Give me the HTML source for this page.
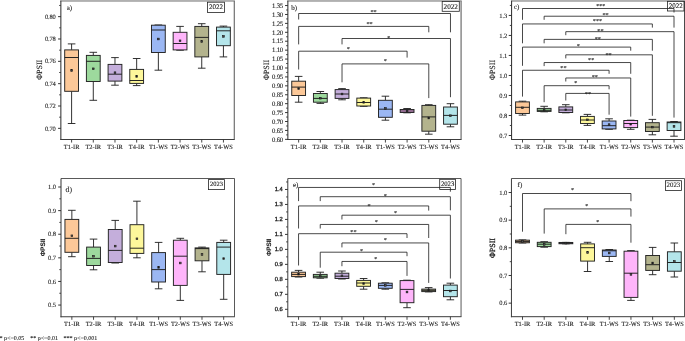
<!DOCTYPE html>
<html lang="en"><head><meta charset="utf-8"><title>Figure</title>
<style>html,body{margin:0;padding:0;background:#fff}body{width:685px;height:341px;overflow:hidden}svg text{white-space:pre;stroke:#222;stroke-width:0.1px;text-rendering:geometricPrecision}</style></head>
<body>
<svg width="685" height="341" viewBox="0 0 685 341" style="display:block">
<rect width="685" height="341" fill="#fff"/>
<g>
<rect x="60.25" y="0" width="174.65" height="1.9" fill="#b0b0b0"/>
<line x1="234.3" y1="1" x2="234.3" y2="139.45" stroke="#707070" stroke-width="1.2"/>
<path d="M71.6 43.9V49.9M71.6 91.3V123.5M67.8 43.9H75.4M67.8 123.5H75.4" fill="none" stroke="#1c1c1c" stroke-width="0.9"/>
<rect x="64.7" y="49.9" width="13.8" height="41.4" fill="#FCC898" stroke="#222" stroke-width="0.95"/>
<line x1="64.7" y1="57.5" x2="78.5" y2="57.5" stroke="#1c1c1c" stroke-width="0.95"/>
<rect x="70.75" y="69.65" width="1.7" height="1.7" fill="#444" stroke="#1a1a1a" stroke-width="0.6"/>
<path d="M93.29 52.3V55.4M93.29 81.5V100.3M89.49 52.3H97.09M89.49 100.3H97.09" fill="none" stroke="#1c1c1c" stroke-width="0.9"/>
<rect x="86.39" y="55.4" width="13.8" height="26.1" fill="#9DD99D" stroke="#222" stroke-width="0.95"/>
<line x1="86.39" y1="61.3" x2="100.19" y2="61.3" stroke="#1c1c1c" stroke-width="0.95"/>
<rect x="92.44" y="67.95" width="1.7" height="1.7" fill="#444" stroke="#1a1a1a" stroke-width="0.6"/>
<path d="M114.98 57.6V64.4M114.98 81.1V85.2M111.18 57.6H118.78M111.18 85.2H118.78" fill="none" stroke="#1c1c1c" stroke-width="0.9"/>
<rect x="108.08" y="64.4" width="13.8" height="16.7" fill="#C4AEDB" stroke="#222" stroke-width="0.95"/>
<line x1="108.08" y1="74.2" x2="121.88" y2="74.2" stroke="#1c1c1c" stroke-width="0.95"/>
<rect x="114.13" y="71.85" width="1.7" height="1.7" fill="#444" stroke="#1a1a1a" stroke-width="0.6"/>
<path d="M136.67 58.5V69.4M136.67 83.4V85.6M132.87 58.5H140.47M132.87 85.6H140.47" fill="none" stroke="#1c1c1c" stroke-width="0.9"/>
<rect x="129.77" y="69.4" width="13.8" height="14" fill="#FDF79B" stroke="#222" stroke-width="0.95"/>
<line x1="129.77" y1="80.5" x2="143.57" y2="80.5" stroke="#1c1c1c" stroke-width="0.95"/>
<rect x="135.82" y="75.55" width="1.7" height="1.7" fill="#444" stroke="#1a1a1a" stroke-width="0.6"/>
<path d="M158.36 25V25.2M158.36 52.5V70.2M154.56 25H162.16M154.56 70.2H162.16" fill="none" stroke="#1c1c1c" stroke-width="0.9"/>
<rect x="151.46" y="25.2" width="13.8" height="27.3" fill="#9BB7F3" stroke="#222" stroke-width="0.95"/>
<line x1="151.46" y1="30" x2="165.26" y2="30" stroke="#1c1c1c" stroke-width="0.95"/>
<rect x="157.51" y="38.15" width="1.7" height="1.7" fill="#444" stroke="#1a1a1a" stroke-width="0.6"/>
<path d="M180.05 26.4V32.3M180.05 49.9V50.2M176.25 26.4H183.85M176.25 50.2H183.85" fill="none" stroke="#1c1c1c" stroke-width="0.9"/>
<rect x="173.15" y="32.3" width="13.8" height="17.6" fill="#FEB5FA" stroke="#222" stroke-width="0.95"/>
<line x1="173.15" y1="43.5" x2="186.95" y2="43.5" stroke="#1c1c1c" stroke-width="0.95"/>
<rect x="179.2" y="39.95" width="1.7" height="1.7" fill="#444" stroke="#1a1a1a" stroke-width="0.6"/>
<path d="M201.74 23.7V26.4M201.74 56.9V68.2M197.94 23.7H205.54M197.94 68.2H205.54" fill="none" stroke="#1c1c1c" stroke-width="0.9"/>
<rect x="194.84" y="26.4" width="13.8" height="30.5" fill="#B3B38D" stroke="#222" stroke-width="0.95"/>
<line x1="194.84" y1="37.4" x2="208.64" y2="37.4" stroke="#1c1c1c" stroke-width="0.95"/>
<rect x="200.89" y="40.65" width="1.7" height="1.7" fill="#444" stroke="#1a1a1a" stroke-width="0.6"/>
<path d="M223.43 26.1V27.1M223.43 45.7V56.9M219.63 26.1H227.23M219.63 56.9H227.23" fill="none" stroke="#1c1c1c" stroke-width="0.9"/>
<rect x="216.53" y="27.1" width="13.8" height="18.6" fill="#B4E5EA" stroke="#222" stroke-width="0.95"/>
<line x1="216.53" y1="30.8" x2="230.33" y2="30.8" stroke="#1c1c1c" stroke-width="0.95"/>
<rect x="222.58" y="35.55" width="1.7" height="1.7" fill="#444" stroke="#1a1a1a" stroke-width="0.6"/>
<line x1="60.85" y1="0.8" x2="60.85" y2="139.95" stroke="#3c3c3c" stroke-width="1.1"/>
<line x1="60.35" y1="139.45" x2="234.7" y2="139.45" stroke="#3c3c3c" stroke-width="1.1"/>
<line x1="58.05" y1="128.35" x2="60.85" y2="128.35" stroke="#2a2a2a" stroke-width="0.95"/>
<text x="55.65" y="130.5" font-size="6.5" text-anchor="end" font-family='"Liberation Serif", "Times New Roman", serif' fill="#222" letter-spacing="-0.17">0.70</text>
<line x1="58.05" y1="106.01" x2="60.85" y2="106.01" stroke="#2a2a2a" stroke-width="0.95"/>
<text x="55.65" y="108.15" font-size="6.5" text-anchor="end" font-family='"Liberation Serif", "Times New Roman", serif' fill="#222" letter-spacing="-0.17">0.72</text>
<line x1="58.05" y1="83.67" x2="60.85" y2="83.67" stroke="#2a2a2a" stroke-width="0.95"/>
<text x="55.65" y="85.81" font-size="6.5" text-anchor="end" font-family='"Liberation Serif", "Times New Roman", serif' fill="#222" letter-spacing="-0.17">0.74</text>
<line x1="58.05" y1="61.33" x2="60.85" y2="61.33" stroke="#2a2a2a" stroke-width="0.95"/>
<text x="55.65" y="63.47" font-size="6.5" text-anchor="end" font-family='"Liberation Serif", "Times New Roman", serif' fill="#222" letter-spacing="-0.17">0.76</text>
<line x1="58.05" y1="38.99" x2="60.85" y2="38.99" stroke="#2a2a2a" stroke-width="0.95"/>
<text x="55.65" y="41.13" font-size="6.5" text-anchor="end" font-family='"Liberation Serif", "Times New Roman", serif' fill="#222" letter-spacing="-0.17">0.78</text>
<line x1="58.05" y1="16.65" x2="60.85" y2="16.65" stroke="#2a2a2a" stroke-width="0.95"/>
<text x="55.65" y="18.79" font-size="6.5" text-anchor="end" font-family='"Liberation Serif", "Times New Roman", serif' fill="#222" letter-spacing="-0.17">0.80</text>
<line x1="59.15" y1="117.18" x2="60.85" y2="117.18" stroke="#333" stroke-width="0.9"/>
<line x1="59.15" y1="94.84" x2="60.85" y2="94.84" stroke="#333" stroke-width="0.9"/>
<line x1="59.15" y1="72.5" x2="60.85" y2="72.5" stroke="#333" stroke-width="0.9"/>
<line x1="59.15" y1="50.16" x2="60.85" y2="50.16" stroke="#333" stroke-width="0.9"/>
<line x1="59.15" y1="27.82" x2="60.85" y2="27.82" stroke="#333" stroke-width="0.9"/>
<line x1="59.15" y1="5.48" x2="60.85" y2="5.48" stroke="#333" stroke-width="0.9"/>
<line x1="71.6" y1="139.45" x2="71.6" y2="142.55" stroke="#333" stroke-width="0.9"/>
<text x="71.6" y="149.3" font-size="6.4" text-anchor="middle" font-family='"Liberation Serif", "Times New Roman", serif' fill="#222">T1-IR</text>
<line x1="93.29" y1="139.45" x2="93.29" y2="142.55" stroke="#333" stroke-width="0.9"/>
<text x="93.29" y="149.3" font-size="6.4" text-anchor="middle" font-family='"Liberation Serif", "Times New Roman", serif' fill="#222">T2-IR</text>
<line x1="114.98" y1="139.45" x2="114.98" y2="142.55" stroke="#333" stroke-width="0.9"/>
<text x="114.98" y="149.3" font-size="6.4" text-anchor="middle" font-family='"Liberation Serif", "Times New Roman", serif' fill="#222">T3-IR</text>
<line x1="136.67" y1="139.45" x2="136.67" y2="142.55" stroke="#333" stroke-width="0.9"/>
<text x="136.67" y="149.3" font-size="6.4" text-anchor="middle" font-family='"Liberation Serif", "Times New Roman", serif' fill="#222">T4-IR</text>
<line x1="158.36" y1="139.45" x2="158.36" y2="142.55" stroke="#333" stroke-width="0.9"/>
<text x="158.36" y="149.3" font-size="6.4" text-anchor="middle" font-family='"Liberation Serif", "Times New Roman", serif' fill="#222">T1-WS</text>
<line x1="180.05" y1="139.45" x2="180.05" y2="142.55" stroke="#333" stroke-width="0.9"/>
<text x="180.05" y="149.3" font-size="6.4" text-anchor="middle" font-family='"Liberation Serif", "Times New Roman", serif' fill="#222">T2-WS</text>
<line x1="201.74" y1="139.45" x2="201.74" y2="142.55" stroke="#333" stroke-width="0.9"/>
<text x="201.74" y="149.3" font-size="6.4" text-anchor="middle" font-family='"Liberation Serif", "Times New Roman", serif' fill="#222">T3-WS</text>
<line x1="223.43" y1="139.45" x2="223.43" y2="142.55" stroke="#333" stroke-width="0.9"/>
<text x="223.43" y="149.3" font-size="6.4" text-anchor="middle" font-family='"Liberation Serif", "Times New Roman", serif' fill="#222">T4-WS</text>
<rect x="207.4" y="2.2" width="17.2" height="10.3" fill="#fff" stroke="#222" stroke-width="0.8"/>
<text x="216" y="9.43" font-size="7" text-anchor="middle" font-family='"Liberation Serif", "Times New Roman", serif' fill="#111">2022</text>
<text x="66.7" y="9.8" font-size="7" font-family='"Liberation Serif", "Times New Roman", serif' fill="#222">a)</text>
<text transform="translate(39 69.8) rotate(-90)" x="0" y="2.64" font-size="8.0" font-weight="normal" text-anchor="middle" font-family='"Liberation Serif", "Times New Roman", serif' fill="#222" style="stroke-width:0.13px">ΦPSII</text>
</g>
<g>
<rect x="287.25" y="0" width="174.45" height="1.9" fill="#b0b0b0"/>
<line x1="461.1" y1="1" x2="461.1" y2="139.45" stroke="#8a8a8a" stroke-width="1.5"/>
<path d="M298.65 19.5V13.5H450.48V32.3" fill="none" stroke="#1a1a1a" stroke-width="0.8"/>
<text x="373.6" y="13.6" font-size="6.2" text-anchor="middle" font-family='"Liberation Serif", "Times New Roman", serif' fill="#222">**</text>
<path d="M298.65 44.4V26.4H428.79V32.3" fill="none" stroke="#1a1a1a" stroke-width="0.8"/>
<text x="369.5" y="26.1" font-size="6.2" text-anchor="middle" font-family='"Liberation Serif", "Times New Roman", serif' fill="#222">**</text>
<path d="M342.03 44.4V38.5H450.48V97.2" fill="none" stroke="#1a1a1a" stroke-width="0.8"/>
<text x="388.9" y="40" font-size="6.2" text-anchor="middle" font-family='"Liberation Serif", "Times New Roman", serif' fill="#222">*</text>
<path d="M298.65 69.5V51.2H407.1V57.6" fill="none" stroke="#1a1a1a" stroke-width="0.8"/>
<text x="348.4" y="50.6" font-size="6.2" text-anchor="middle" font-family='"Liberation Serif", "Times New Roman", serif' fill="#222">*</text>
<path d="M342.03 82.3V63.9H428.79V98.1" fill="none" stroke="#1a1a1a" stroke-width="0.8"/>
<text x="385.2" y="62.7" font-size="6.2" text-anchor="middle" font-family='"Liberation Serif", "Times New Roman", serif' fill="#222">*</text>
<path d="M298.65 76.4V81.2M298.65 95.5V102.2M294.85 76.4H302.45M294.85 102.2H302.45" fill="none" stroke="#1c1c1c" stroke-width="0.9"/>
<rect x="291.75" y="81.2" width="13.8" height="14.3" fill="#FCC898" stroke="#222" stroke-width="0.95"/>
<line x1="291.75" y1="87.1" x2="305.55" y2="87.1" stroke="#1c1c1c" stroke-width="0.95"/>
<rect x="297.8" y="87.75" width="1.7" height="1.7" fill="#444" stroke="#1a1a1a" stroke-width="0.6"/>
<path d="M320.34 91.5V93.5M320.34 102.2V103.4M316.54 91.5H324.14M316.54 103.4H324.14" fill="none" stroke="#1c1c1c" stroke-width="0.9"/>
<rect x="313.44" y="93.5" width="13.8" height="8.7" fill="#9DD99D" stroke="#222" stroke-width="0.95"/>
<line x1="313.44" y1="98.4" x2="327.24" y2="98.4" stroke="#1c1c1c" stroke-width="0.95"/>
<rect x="319.49" y="97.35" width="1.7" height="1.7" fill="#444" stroke="#1a1a1a" stroke-width="0.6"/>
<path d="M342.03 88.6V89.6M342.03 98.4V99.8M338.23 88.6H345.83M338.23 99.8H345.83" fill="none" stroke="#1c1c1c" stroke-width="0.9"/>
<rect x="335.13" y="89.6" width="13.8" height="8.8" fill="#C4AEDB" stroke="#222" stroke-width="0.95"/>
<line x1="335.13" y1="94" x2="348.93" y2="94" stroke="#1c1c1c" stroke-width="0.95"/>
<rect x="341.18" y="93.15" width="1.7" height="1.7" fill="#444" stroke="#1a1a1a" stroke-width="0.6"/>
<path d="M363.72 97.8V98.1M363.72 106V106.3M359.92 97.8H367.52M359.92 106.3H367.52" fill="none" stroke="#1c1c1c" stroke-width="0.9"/>
<rect x="356.82" y="98.1" width="13.8" height="7.9" fill="#FDF79B" stroke="#222" stroke-width="0.95"/>
<line x1="356.82" y1="102.5" x2="370.62" y2="102.5" stroke="#1c1c1c" stroke-width="0.95"/>
<rect x="362.87" y="101.45" width="1.7" height="1.7" fill="#444" stroke="#1a1a1a" stroke-width="0.6"/>
<path d="M385.41 96.2V100.3M385.41 117.3V120.2M381.61 96.2H389.21M381.61 120.2H389.21" fill="none" stroke="#1c1c1c" stroke-width="0.9"/>
<rect x="378.51" y="100.3" width="13.8" height="17" fill="#9BB7F3" stroke="#222" stroke-width="0.95"/>
<line x1="378.51" y1="109.2" x2="392.31" y2="109.2" stroke="#1c1c1c" stroke-width="0.95"/>
<rect x="384.56" y="107.55" width="1.7" height="1.7" fill="#444" stroke="#1a1a1a" stroke-width="0.6"/>
<path d="M407.1 108.5V109.5M407.1 112.5V112.8M403.3 108.5H410.9M403.3 112.8H410.9" fill="none" stroke="#1c1c1c" stroke-width="0.9"/>
<rect x="400.2" y="109.5" width="13.8" height="3" fill="#FEB5FA" stroke="#222" stroke-width="0.95"/>
<line x1="400.2" y1="111" x2="414" y2="111" stroke="#1c1c1c" stroke-width="0.95"/>
<rect x="406.25" y="110.15" width="1.7" height="1.7" fill="#444" stroke="#1a1a1a" stroke-width="0.6"/>
<path d="M428.79 104.7V105.4M428.79 131.2V134.2M424.99 104.7H432.59M424.99 134.2H432.59" fill="none" stroke="#1c1c1c" stroke-width="0.9"/>
<rect x="421.89" y="105.4" width="13.8" height="25.8" fill="#B3B38D" stroke="#222" stroke-width="0.95"/>
<line x1="421.89" y1="116.9" x2="435.69" y2="116.9" stroke="#1c1c1c" stroke-width="0.95"/>
<rect x="427.94" y="117.15" width="1.7" height="1.7" fill="#444" stroke="#1a1a1a" stroke-width="0.6"/>
<path d="M450.48 103.7V107M450.48 124.2V126.8M446.68 103.7H454.28M446.68 126.8H454.28" fill="none" stroke="#1c1c1c" stroke-width="0.9"/>
<rect x="443.58" y="107" width="13.8" height="17.2" fill="#B4E5EA" stroke="#222" stroke-width="0.95"/>
<line x1="443.58" y1="115.4" x2="457.38" y2="115.4" stroke="#1c1c1c" stroke-width="0.95"/>
<rect x="449.63" y="114.85" width="1.7" height="1.7" fill="#444" stroke="#1a1a1a" stroke-width="0.6"/>
<line x1="287.85" y1="0.8" x2="287.85" y2="139.95" stroke="#3c3c3c" stroke-width="1.1"/>
<line x1="287.35" y1="139.45" x2="461.5" y2="139.45" stroke="#3c3c3c" stroke-width="1.1"/>
<line x1="285.05" y1="139.35" x2="287.85" y2="139.35" stroke="#2a2a2a" stroke-width="0.95"/>
<text x="282.95" y="141.56" font-size="6.7" text-anchor="end" font-family='"Liberation Serif", "Times New Roman", serif' fill="#222" letter-spacing="-0.2">0.60</text>
<line x1="285.05" y1="130.43" x2="287.85" y2="130.43" stroke="#2a2a2a" stroke-width="0.95"/>
<text x="282.95" y="132.64" font-size="6.7" text-anchor="end" font-family='"Liberation Serif", "Times New Roman", serif' fill="#222" letter-spacing="-0.2">0.65</text>
<line x1="285.05" y1="121.51" x2="287.85" y2="121.51" stroke="#2a2a2a" stroke-width="0.95"/>
<text x="282.95" y="123.72" font-size="6.7" text-anchor="end" font-family='"Liberation Serif", "Times New Roman", serif' fill="#222" letter-spacing="-0.2">0.70</text>
<line x1="285.05" y1="112.59" x2="287.85" y2="112.59" stroke="#2a2a2a" stroke-width="0.95"/>
<text x="282.95" y="114.8" font-size="6.7" text-anchor="end" font-family='"Liberation Serif", "Times New Roman", serif' fill="#222" letter-spacing="-0.2">0.75</text>
<line x1="285.05" y1="103.67" x2="287.85" y2="103.67" stroke="#2a2a2a" stroke-width="0.95"/>
<text x="282.95" y="105.88" font-size="6.7" text-anchor="end" font-family='"Liberation Serif", "Times New Roman", serif' fill="#222" letter-spacing="-0.2">0.80</text>
<line x1="285.05" y1="94.75" x2="287.85" y2="94.75" stroke="#2a2a2a" stroke-width="0.95"/>
<text x="282.95" y="96.96" font-size="6.7" text-anchor="end" font-family='"Liberation Serif", "Times New Roman", serif' fill="#222" letter-spacing="-0.2">0.85</text>
<line x1="285.05" y1="85.83" x2="287.85" y2="85.83" stroke="#2a2a2a" stroke-width="0.95"/>
<text x="282.95" y="88.04" font-size="6.7" text-anchor="end" font-family='"Liberation Serif", "Times New Roman", serif' fill="#222" letter-spacing="-0.2">0.90</text>
<line x1="285.05" y1="76.91" x2="287.85" y2="76.91" stroke="#2a2a2a" stroke-width="0.95"/>
<text x="282.95" y="79.12" font-size="6.7" text-anchor="end" font-family='"Liberation Serif", "Times New Roman", serif' fill="#222" letter-spacing="-0.2">0.95</text>
<line x1="285.05" y1="67.99" x2="287.85" y2="67.99" stroke="#2a2a2a" stroke-width="0.95"/>
<text x="282.95" y="70.2" font-size="6.7" text-anchor="end" font-family='"Liberation Serif", "Times New Roman", serif' fill="#222" letter-spacing="-0.2">1.00</text>
<line x1="285.05" y1="59.07" x2="287.85" y2="59.07" stroke="#2a2a2a" stroke-width="0.95"/>
<text x="282.95" y="61.28" font-size="6.7" text-anchor="end" font-family='"Liberation Serif", "Times New Roman", serif' fill="#222" letter-spacing="-0.2">1.05</text>
<line x1="285.05" y1="50.15" x2="287.85" y2="50.15" stroke="#2a2a2a" stroke-width="0.95"/>
<text x="282.95" y="52.36" font-size="6.7" text-anchor="end" font-family='"Liberation Serif", "Times New Roman", serif' fill="#222" letter-spacing="-0.2">1.10</text>
<line x1="285.05" y1="41.23" x2="287.85" y2="41.23" stroke="#2a2a2a" stroke-width="0.95"/>
<text x="282.95" y="43.44" font-size="6.7" text-anchor="end" font-family='"Liberation Serif", "Times New Roman", serif' fill="#222" letter-spacing="-0.2">1.15</text>
<line x1="285.05" y1="32.31" x2="287.85" y2="32.31" stroke="#2a2a2a" stroke-width="0.95"/>
<text x="282.95" y="34.52" font-size="6.7" text-anchor="end" font-family='"Liberation Serif", "Times New Roman", serif' fill="#222" letter-spacing="-0.2">1.20</text>
<line x1="285.05" y1="23.39" x2="287.85" y2="23.39" stroke="#2a2a2a" stroke-width="0.95"/>
<text x="282.95" y="25.6" font-size="6.7" text-anchor="end" font-family='"Liberation Serif", "Times New Roman", serif' fill="#222" letter-spacing="-0.2">1.25</text>
<line x1="285.05" y1="14.47" x2="287.85" y2="14.47" stroke="#2a2a2a" stroke-width="0.95"/>
<text x="282.95" y="16.68" font-size="6.7" text-anchor="end" font-family='"Liberation Serif", "Times New Roman", serif' fill="#222" letter-spacing="-0.2">1.30</text>
<line x1="285.05" y1="5.55" x2="287.85" y2="5.55" stroke="#2a2a2a" stroke-width="0.95"/>
<text x="282.95" y="7.76" font-size="6.7" text-anchor="end" font-family='"Liberation Serif", "Times New Roman", serif' fill="#222" letter-spacing="-0.2">1.35</text>
<line x1="286.15" y1="134.89" x2="287.85" y2="134.89" stroke="#333" stroke-width="0.9"/>
<line x1="286.15" y1="125.97" x2="287.85" y2="125.97" stroke="#333" stroke-width="0.9"/>
<line x1="286.15" y1="117.05" x2="287.85" y2="117.05" stroke="#333" stroke-width="0.9"/>
<line x1="286.15" y1="108.13" x2="287.85" y2="108.13" stroke="#333" stroke-width="0.9"/>
<line x1="286.15" y1="99.21" x2="287.85" y2="99.21" stroke="#333" stroke-width="0.9"/>
<line x1="286.15" y1="90.29" x2="287.85" y2="90.29" stroke="#333" stroke-width="0.9"/>
<line x1="286.15" y1="81.37" x2="287.85" y2="81.37" stroke="#333" stroke-width="0.9"/>
<line x1="286.15" y1="72.45" x2="287.85" y2="72.45" stroke="#333" stroke-width="0.9"/>
<line x1="286.15" y1="63.53" x2="287.85" y2="63.53" stroke="#333" stroke-width="0.9"/>
<line x1="286.15" y1="54.61" x2="287.85" y2="54.61" stroke="#333" stroke-width="0.9"/>
<line x1="286.15" y1="45.69" x2="287.85" y2="45.69" stroke="#333" stroke-width="0.9"/>
<line x1="286.15" y1="36.77" x2="287.85" y2="36.77" stroke="#333" stroke-width="0.9"/>
<line x1="286.15" y1="27.85" x2="287.85" y2="27.85" stroke="#333" stroke-width="0.9"/>
<line x1="286.15" y1="18.93" x2="287.85" y2="18.93" stroke="#333" stroke-width="0.9"/>
<line x1="286.15" y1="10.01" x2="287.85" y2="10.01" stroke="#333" stroke-width="0.9"/>
<line x1="298.65" y1="139.45" x2="298.65" y2="142.55" stroke="#333" stroke-width="0.9"/>
<text x="298.65" y="149.3" font-size="6.4" text-anchor="middle" font-family='"Liberation Serif", "Times New Roman", serif' fill="#222">T1-IR</text>
<line x1="320.34" y1="139.45" x2="320.34" y2="142.55" stroke="#333" stroke-width="0.9"/>
<text x="320.34" y="149.3" font-size="6.4" text-anchor="middle" font-family='"Liberation Serif", "Times New Roman", serif' fill="#222">T2-IR</text>
<line x1="342.03" y1="139.45" x2="342.03" y2="142.55" stroke="#333" stroke-width="0.9"/>
<text x="342.03" y="149.3" font-size="6.4" text-anchor="middle" font-family='"Liberation Serif", "Times New Roman", serif' fill="#222">T3-IR</text>
<line x1="363.72" y1="139.45" x2="363.72" y2="142.55" stroke="#333" stroke-width="0.9"/>
<text x="363.72" y="149.3" font-size="6.4" text-anchor="middle" font-family='"Liberation Serif", "Times New Roman", serif' fill="#222">T4-IR</text>
<line x1="385.41" y1="139.45" x2="385.41" y2="142.55" stroke="#333" stroke-width="0.9"/>
<text x="385.41" y="149.3" font-size="6.4" text-anchor="middle" font-family='"Liberation Serif", "Times New Roman", serif' fill="#222">T1-WS</text>
<line x1="407.1" y1="139.45" x2="407.1" y2="142.55" stroke="#333" stroke-width="0.9"/>
<text x="407.1" y="149.3" font-size="6.4" text-anchor="middle" font-family='"Liberation Serif", "Times New Roman", serif' fill="#222">T2-WS</text>
<line x1="428.79" y1="139.45" x2="428.79" y2="142.55" stroke="#333" stroke-width="0.9"/>
<text x="428.79" y="149.3" font-size="6.4" text-anchor="middle" font-family='"Liberation Serif", "Times New Roman", serif' fill="#222">T3-WS</text>
<line x1="450.48" y1="139.45" x2="450.48" y2="142.55" stroke="#333" stroke-width="0.9"/>
<text x="450.48" y="149.3" font-size="6.4" text-anchor="middle" font-family='"Liberation Serif", "Times New Roman", serif' fill="#222">T4-WS</text>
<rect x="442.2" y="1.4" width="17.1" height="9.9" fill="#fff" stroke="#222" stroke-width="0.8"/>
<text x="450.75" y="8.5" font-size="7.2" text-anchor="middle" font-family='"Liberation Serif", "Times New Roman", serif' fill="#111">2022</text>
<text x="291.2" y="9.7" font-size="7" font-family='"Liberation Serif", "Times New Roman", serif' fill="#222">b)</text>
<text transform="translate(265.9 70) rotate(-90)" x="0" y="2.64" font-size="8.0" font-weight="normal" text-anchor="middle" font-family='"Liberation Serif", "Times New Roman", serif' fill="#222" style="stroke-width:0.13px">ΦPSII</text>
</g>
<g>
<rect x="510.95" y="0" width="174.15" height="1.9" fill="#b0b0b0"/>
<line x1="684.5" y1="1" x2="684.5" y2="139.45" stroke="#4a4a4a" stroke-width="1.0"/>
<path d="M522.5 19.8V8.5H674.01V12.5" fill="none" stroke="#1a1a1a" stroke-width="0.8"/>
<text x="600.8" y="7.7" font-size="6.2" text-anchor="middle" font-family='"Liberation Serif", "Times New Roman", serif' fill="#222">***</text>
<path d="M544.14 19.8V16.22H674.01V27.6" fill="none" stroke="#1a1a1a" stroke-width="0.8"/>
<text x="605.5" y="16.8" font-size="6.2" text-anchor="middle" font-family='"Liberation Serif", "Times New Roman", serif' fill="#222">**</text>
<path d="M522.5 43.3V23.94H652.37V27.6" fill="none" stroke="#1a1a1a" stroke-width="0.8"/>
<text x="597.5" y="23.4" font-size="6.2" text-anchor="middle" font-family='"Liberation Serif", "Times New Roman", serif' fill="#222">***</text>
<path d="M565.79 35.2V31.66H674.01V117.6" fill="none" stroke="#1a1a1a" stroke-width="0.8"/>
<text x="600.4" y="33.2" font-size="6.2" text-anchor="middle" font-family='"Liberation Serif", "Times New Roman", serif' fill="#222">**</text>
<path d="M544.14 43.3V39.38H652.37V50.7" fill="none" stroke="#1a1a1a" stroke-width="0.8"/>
<text x="597.8" y="41.3" font-size="6.2" text-anchor="middle" font-family='"Liberation Serif", "Times New Roman", serif' fill="#222">**</text>
<path d="M522.5 65.8V47.1H630.73V50.7" fill="none" stroke="#1a1a1a" stroke-width="0.8"/>
<text x="578.4" y="48.1" font-size="6.2" text-anchor="middle" font-family='"Liberation Serif", "Times New Roman", serif' fill="#222">*</text>
<path d="M565.79 58.4V54.82H652.37V115.8" fill="none" stroke="#1a1a1a" stroke-width="0.8"/>
<text x="608.5" y="56.6" font-size="6.2" text-anchor="middle" font-family='"Liberation Serif", "Times New Roman", serif' fill="#222">**</text>
<path d="M544.14 66.1V62.54H630.73V73.8" fill="none" stroke="#1a1a1a" stroke-width="0.8"/>
<text x="591.2" y="61.7" font-size="6.2" text-anchor="middle" font-family='"Liberation Serif", "Times New Roman", serif' fill="#222">**</text>
<path d="M522.5 96.6V70.26H609.08V73.8" fill="none" stroke="#1a1a1a" stroke-width="0.8"/>
<text x="563.4" y="70.1" font-size="6.2" text-anchor="middle" font-family='"Liberation Serif", "Times New Roman", serif' fill="#222">**</text>
<path d="M565.79 81.5V77.98H630.73V116.6" fill="none" stroke="#1a1a1a" stroke-width="0.8"/>
<text x="594.8" y="79" font-size="6.2" text-anchor="middle" font-family='"Liberation Serif", "Times New Roman", serif' fill="#222">**</text>
<path d="M544.14 102.2V85.7H609.08V89.3" fill="none" stroke="#1a1a1a" stroke-width="0.8"/>
<text x="575.9" y="84.7" font-size="6.2" text-anchor="middle" font-family='"Liberation Serif", "Times New Roman", serif' fill="#222">*</text>
<path d="M565.79 100.5V93.42H609.08V114.7" fill="none" stroke="#1a1a1a" stroke-width="0.8"/>
<text x="587.9" y="95.7" font-size="6.2" text-anchor="middle" font-family='"Liberation Serif", "Times New Roman", serif' fill="#222">**</text>
<path d="M522.5 101.2V101.9M522.5 113.5V115.1M518.7 101.2H526.3M518.7 115.1H526.3" fill="none" stroke="#1c1c1c" stroke-width="0.9"/>
<rect x="515.6" y="101.9" width="13.8" height="11.6" fill="#FCC898" stroke="#222" stroke-width="0.95"/>
<line x1="515.6" y1="107.3" x2="529.4" y2="107.3" stroke="#1c1c1c" stroke-width="0.95"/>
<rect x="521.65" y="106.95" width="1.7" height="1.7" fill="#444" stroke="#1a1a1a" stroke-width="0.6"/>
<path d="M544.14 106.3V108.4M544.14 111.4V111.8M540.35 106.3H547.94M540.35 111.8H547.94" fill="none" stroke="#1c1c1c" stroke-width="0.9"/>
<rect x="537.25" y="108.4" width="13.8" height="3" fill="#9DD99D" stroke="#222" stroke-width="0.95"/>
<line x1="537.25" y1="110.3" x2="551.04" y2="110.3" stroke="#1c1c1c" stroke-width="0.95"/>
<rect x="543.29" y="109.15" width="1.7" height="1.7" fill="#444" stroke="#1a1a1a" stroke-width="0.6"/>
<path d="M565.79 104.7V106.9M565.79 112.5V112.8M561.99 104.7H569.59M561.99 112.8H569.59" fill="none" stroke="#1c1c1c" stroke-width="0.9"/>
<rect x="558.89" y="106.9" width="13.8" height="5.6" fill="#C4AEDB" stroke="#222" stroke-width="0.95"/>
<line x1="558.89" y1="110" x2="572.69" y2="110" stroke="#1c1c1c" stroke-width="0.95"/>
<rect x="564.94" y="108.95" width="1.7" height="1.7" fill="#444" stroke="#1a1a1a" stroke-width="0.6"/>
<path d="M587.43 114.4V116.4M587.43 123.5V125.4M583.63 114.4H591.23M583.63 125.4H591.23" fill="none" stroke="#1c1c1c" stroke-width="0.9"/>
<rect x="580.53" y="116.4" width="13.8" height="7.1" fill="#FDF79B" stroke="#222" stroke-width="0.95"/>
<line x1="580.53" y1="120" x2="594.33" y2="120" stroke="#1c1c1c" stroke-width="0.95"/>
<rect x="586.58" y="118.95" width="1.7" height="1.7" fill="#444" stroke="#1a1a1a" stroke-width="0.6"/>
<path d="M609.08 118.8V121M609.08 128.9V129.3M605.28 118.8H612.88M605.28 129.3H612.88" fill="none" stroke="#1c1c1c" stroke-width="0.9"/>
<rect x="602.18" y="121" width="13.8" height="7.9" fill="#9BB7F3" stroke="#222" stroke-width="0.95"/>
<line x1="602.18" y1="125.7" x2="615.98" y2="125.7" stroke="#1c1c1c" stroke-width="0.95"/>
<rect x="608.23" y="123.75" width="1.7" height="1.7" fill="#444" stroke="#1a1a1a" stroke-width="0.6"/>
<path d="M630.73 120.2V120.5M630.73 127.6V129.3M626.93 120.2H634.52M626.93 129.3H634.52" fill="none" stroke="#1c1c1c" stroke-width="0.9"/>
<rect x="623.83" y="120.5" width="13.8" height="7.1" fill="#FEB5FA" stroke="#222" stroke-width="0.95"/>
<line x1="623.83" y1="123.5" x2="637.62" y2="123.5" stroke="#1c1c1c" stroke-width="0.95"/>
<rect x="629.88" y="123.35" width="1.7" height="1.7" fill="#444" stroke="#1a1a1a" stroke-width="0.6"/>
<path d="M652.37 119.4V122.7M652.37 131.5V134.8M648.57 119.4H656.17M648.57 134.8H656.17" fill="none" stroke="#1c1c1c" stroke-width="0.9"/>
<rect x="645.47" y="122.7" width="13.8" height="8.8" fill="#B3B38D" stroke="#222" stroke-width="0.95"/>
<line x1="645.47" y1="127.1" x2="659.27" y2="127.1" stroke="#1c1c1c" stroke-width="0.95"/>
<rect x="651.52" y="126.25" width="1.7" height="1.7" fill="#444" stroke="#1a1a1a" stroke-width="0.6"/>
<path d="M674.01 121.5V122M674.01 130.5V136.2M670.22 121.5H677.81M670.22 136.2H677.81" fill="none" stroke="#1c1c1c" stroke-width="0.9"/>
<rect x="667.12" y="122" width="13.8" height="8.5" fill="#B4E5EA" stroke="#222" stroke-width="0.95"/>
<line x1="667.12" y1="122.7" x2="680.91" y2="122.7" stroke="#1c1c1c" stroke-width="0.95"/>
<rect x="673.16" y="125.55" width="1.7" height="1.7" fill="#444" stroke="#1a1a1a" stroke-width="0.6"/>
<line x1="511.55" y1="0.8" x2="511.55" y2="139.95" stroke="#3c3c3c" stroke-width="1.1"/>
<line x1="511.05" y1="139.45" x2="684.9" y2="139.45" stroke="#3c3c3c" stroke-width="1.1"/>
<line x1="508.75" y1="135.5" x2="511.55" y2="135.5" stroke="#2a2a2a" stroke-width="0.95"/>
<text x="507.35" y="137.65" font-size="6.5" text-anchor="end" font-family='"Liberation Serif", "Times New Roman", serif' fill="#222">0.7</text>
<line x1="508.75" y1="115.49" x2="511.55" y2="115.49" stroke="#2a2a2a" stroke-width="0.95"/>
<text x="507.35" y="117.64" font-size="6.5" text-anchor="end" font-family='"Liberation Serif", "Times New Roman", serif' fill="#222">0.8</text>
<line x1="508.75" y1="95.48" x2="511.55" y2="95.48" stroke="#2a2a2a" stroke-width="0.95"/>
<text x="507.35" y="97.63" font-size="6.5" text-anchor="end" font-family='"Liberation Serif", "Times New Roman", serif' fill="#222">0.9</text>
<line x1="508.75" y1="75.47" x2="511.55" y2="75.47" stroke="#2a2a2a" stroke-width="0.95"/>
<text x="507.35" y="77.61" font-size="6.5" text-anchor="end" font-family='"Liberation Serif", "Times New Roman", serif' fill="#222">1.0</text>
<line x1="508.75" y1="55.46" x2="511.55" y2="55.46" stroke="#2a2a2a" stroke-width="0.95"/>
<text x="507.35" y="57.6" font-size="6.5" text-anchor="end" font-family='"Liberation Serif", "Times New Roman", serif' fill="#222">1.1</text>
<line x1="508.75" y1="35.45" x2="511.55" y2="35.45" stroke="#2a2a2a" stroke-width="0.95"/>
<text x="507.35" y="37.6" font-size="6.5" text-anchor="end" font-family='"Liberation Serif", "Times New Roman", serif' fill="#222">1.2</text>
<line x1="508.75" y1="15.44" x2="511.55" y2="15.44" stroke="#2a2a2a" stroke-width="0.95"/>
<text x="507.35" y="17.58" font-size="6.5" text-anchor="end" font-family='"Liberation Serif", "Times New Roman", serif' fill="#222">1.3</text>
<line x1="509.85" y1="125.49" x2="511.55" y2="125.49" stroke="#333" stroke-width="0.9"/>
<line x1="509.85" y1="105.48" x2="511.55" y2="105.48" stroke="#333" stroke-width="0.9"/>
<line x1="509.85" y1="85.47" x2="511.55" y2="85.47" stroke="#333" stroke-width="0.9"/>
<line x1="509.85" y1="65.46" x2="511.55" y2="65.46" stroke="#333" stroke-width="0.9"/>
<line x1="509.85" y1="45.46" x2="511.55" y2="45.46" stroke="#333" stroke-width="0.9"/>
<line x1="509.85" y1="25.44" x2="511.55" y2="25.44" stroke="#333" stroke-width="0.9"/>
<line x1="509.85" y1="5.43" x2="511.55" y2="5.43" stroke="#333" stroke-width="0.9"/>
<line x1="522.5" y1="139.45" x2="522.5" y2="142.55" stroke="#333" stroke-width="0.9"/>
<text x="522.5" y="149.3" font-size="6.4" text-anchor="middle" font-family='"Liberation Serif", "Times New Roman", serif' fill="#222">T1-IR</text>
<line x1="544.14" y1="139.45" x2="544.14" y2="142.55" stroke="#333" stroke-width="0.9"/>
<text x="544.14" y="149.3" font-size="6.4" text-anchor="middle" font-family='"Liberation Serif", "Times New Roman", serif' fill="#222">T2-IR</text>
<line x1="565.79" y1="139.45" x2="565.79" y2="142.55" stroke="#333" stroke-width="0.9"/>
<text x="565.79" y="149.3" font-size="6.4" text-anchor="middle" font-family='"Liberation Serif", "Times New Roman", serif' fill="#222">T3-IR</text>
<line x1="587.43" y1="139.45" x2="587.43" y2="142.55" stroke="#333" stroke-width="0.9"/>
<text x="587.43" y="149.3" font-size="6.4" text-anchor="middle" font-family='"Liberation Serif", "Times New Roman", serif' fill="#222">T4-IR</text>
<line x1="609.08" y1="139.45" x2="609.08" y2="142.55" stroke="#333" stroke-width="0.9"/>
<text x="609.08" y="149.3" font-size="6.4" text-anchor="middle" font-family='"Liberation Serif", "Times New Roman", serif' fill="#222">T1-WS</text>
<line x1="630.73" y1="139.45" x2="630.73" y2="142.55" stroke="#333" stroke-width="0.9"/>
<text x="630.73" y="149.3" font-size="6.4" text-anchor="middle" font-family='"Liberation Serif", "Times New Roman", serif' fill="#222">T2-WS</text>
<line x1="652.37" y1="139.45" x2="652.37" y2="142.55" stroke="#333" stroke-width="0.9"/>
<text x="652.37" y="149.3" font-size="6.4" text-anchor="middle" font-family='"Liberation Serif", "Times New Roman", serif' fill="#222">T3-WS</text>
<line x1="674.01" y1="139.45" x2="674.01" y2="142.55" stroke="#333" stroke-width="0.9"/>
<text x="674.01" y="149.3" font-size="6.4" text-anchor="middle" font-family='"Liberation Serif", "Times New Roman", serif' fill="#222">T4-WS</text>
<rect x="667.4" y="1.3" width="16.6" height="9.7" fill="none" stroke="#222" stroke-width="0.8"/>
<text x="675.7" y="8.23" font-size="7" text-anchor="middle" font-family='"Liberation Serif", "Times New Roman", serif' fill="#111">2022</text>
<text x="514" y="9.2" font-size="7" font-family='"Liberation Serif", "Times New Roman", serif' fill="#222">c)</text>
<text transform="translate(492.8 70) rotate(-90)" x="0" y="2.64" font-size="8.0" font-weight="normal" text-anchor="middle" font-family='"Liberation Serif", "Times New Roman", serif' fill="#222" style="stroke-width:0.13px">ΦPSII</text>
</g>
<g>
<line x1="61" y1="178.5" x2="234.5" y2="178.5" stroke="#222" stroke-width="0.75"/>
<line x1="234.5" y1="178.5" x2="234.5" y2="316.7" stroke="#222" stroke-width="0.75"/>
<path d="M71.85 210.3V219.4M71.85 252.3V256.7M68.05 210.3H75.65M68.05 256.7H75.65" fill="none" stroke="#1c1c1c" stroke-width="0.9"/>
<rect x="64.95" y="219.4" width="13.8" height="32.9" fill="#FCC898" stroke="#222" stroke-width="0.95"/>
<line x1="64.95" y1="238.3" x2="78.75" y2="238.3" stroke="#1c1c1c" stroke-width="0.95"/>
<rect x="71" y="234.95" width="1.7" height="1.7" fill="#6a6058" stroke="#1a1a1a" stroke-width="0.6"/>
<path d="M93.54 239.1V247.1M93.54 265.5V269.8M89.74 239.1H97.34M89.74 269.8H97.34" fill="none" stroke="#1c1c1c" stroke-width="0.9"/>
<rect x="86.64" y="247.1" width="13.8" height="18.4" fill="#9DD99D" stroke="#222" stroke-width="0.95"/>
<line x1="86.64" y1="258.4" x2="100.44" y2="258.4" stroke="#1c1c1c" stroke-width="0.95"/>
<rect x="92.69" y="255.35" width="1.7" height="1.7" fill="#6a6058" stroke="#1a1a1a" stroke-width="0.6"/>
<path d="M115.23 220.4V229.5M115.23 262.5V263M111.43 220.4H119.03M111.43 263H119.03" fill="none" stroke="#1c1c1c" stroke-width="0.9"/>
<rect x="108.33" y="229.5" width="13.8" height="33" fill="#C4AEDB" stroke="#222" stroke-width="0.95"/>
<line x1="108.33" y1="250.4" x2="122.13" y2="250.4" stroke="#1c1c1c" stroke-width="0.95"/>
<rect x="114.38" y="245.25" width="1.7" height="1.7" fill="#6a6058" stroke="#1a1a1a" stroke-width="0.6"/>
<path d="M136.92 201.2V224.7M136.92 253.4V257.8M133.12 201.2H140.72M133.12 257.8H140.72" fill="none" stroke="#1c1c1c" stroke-width="0.9"/>
<rect x="130.02" y="224.7" width="13.8" height="28.7" fill="#FDF79B" stroke="#222" stroke-width="0.95"/>
<line x1="130.02" y1="248.2" x2="143.82" y2="248.2" stroke="#1c1c1c" stroke-width="0.95"/>
<rect x="136.07" y="237.95" width="1.7" height="1.7" fill="#6a6058" stroke="#1a1a1a" stroke-width="0.6"/>
<path d="M158.61 242.4V252.6M158.61 282V288.8M154.81 242.4H162.41M154.81 288.8H162.41" fill="none" stroke="#1c1c1c" stroke-width="0.9"/>
<rect x="151.71" y="252.6" width="13.8" height="29.4" fill="#9BB7F3" stroke="#222" stroke-width="0.95"/>
<line x1="151.71" y1="269.6" x2="165.51" y2="269.6" stroke="#1c1c1c" stroke-width="0.95"/>
<rect x="157.76" y="266.55" width="1.7" height="1.7" fill="#6a6058" stroke="#1a1a1a" stroke-width="0.6"/>
<path d="M180.3 238.3V240.2M180.3 285.4V300.4M176.5 238.3H184.1M176.5 300.4H184.1" fill="none" stroke="#1c1c1c" stroke-width="0.9"/>
<rect x="173.4" y="240.2" width="13.8" height="45.2" fill="#FEB5FA" stroke="#222" stroke-width="0.95"/>
<line x1="173.4" y1="256.2" x2="187.2" y2="256.2" stroke="#1c1c1c" stroke-width="0.95"/>
<rect x="179.45" y="262.15" width="1.7" height="1.7" fill="#6a6058" stroke="#1a1a1a" stroke-width="0.6"/>
<path d="M201.99 247.1V247.9M201.99 260.8V271.8M198.19 247.1H205.79M198.19 271.8H205.79" fill="none" stroke="#1c1c1c" stroke-width="0.9"/>
<rect x="195.09" y="247.9" width="13.8" height="12.9" fill="#B3B38D" stroke="#222" stroke-width="0.95"/>
<line x1="195.09" y1="248.6" x2="208.89" y2="248.6" stroke="#1c1c1c" stroke-width="0.95"/>
<rect x="201.14" y="253.65" width="1.7" height="1.7" fill="#6a6058" stroke="#1a1a1a" stroke-width="0.6"/>
<path d="M223.68 240.2V242.4M223.68 274.4V299.3M219.88 240.2H227.48M219.88 299.3H227.48" fill="none" stroke="#1c1c1c" stroke-width="0.9"/>
<rect x="216.78" y="242.4" width="13.8" height="32" fill="#B4E5EA" stroke="#222" stroke-width="0.95"/>
<line x1="216.78" y1="247.1" x2="230.58" y2="247.1" stroke="#1c1c1c" stroke-width="0.95"/>
<rect x="222.83" y="257.75" width="1.7" height="1.7" fill="#6a6058" stroke="#1a1a1a" stroke-width="0.6"/>
<line x1="61" y1="178.5" x2="61" y2="317.2" stroke="#3c3c3c" stroke-width="1.05"/>
<line x1="60.5" y1="316.7" x2="234.9" y2="316.7" stroke="#3c3c3c" stroke-width="1.05"/>
<line x1="58.2" y1="305.05" x2="61" y2="305.05" stroke="#2a2a2a" stroke-width="0.95"/>
<text x="56.1" y="307.19" font-size="6.5" text-anchor="end" font-family='"Liberation Serif", "Times New Roman", serif' fill="#222">0.5</text>
<line x1="58.2" y1="281.44" x2="61" y2="281.44" stroke="#2a2a2a" stroke-width="0.95"/>
<text x="56.1" y="283.58" font-size="6.5" text-anchor="end" font-family='"Liberation Serif", "Times New Roman", serif' fill="#222">0.6</text>
<line x1="58.2" y1="257.83" x2="61" y2="257.83" stroke="#2a2a2a" stroke-width="0.95"/>
<text x="56.1" y="259.98" font-size="6.5" text-anchor="end" font-family='"Liberation Serif", "Times New Roman", serif' fill="#222">0.7</text>
<line x1="58.2" y1="234.22" x2="61" y2="234.22" stroke="#2a2a2a" stroke-width="0.95"/>
<text x="56.1" y="236.37" font-size="6.5" text-anchor="end" font-family='"Liberation Serif", "Times New Roman", serif' fill="#222">0.8</text>
<line x1="58.2" y1="210.61" x2="61" y2="210.61" stroke="#2a2a2a" stroke-width="0.95"/>
<text x="56.1" y="212.76" font-size="6.5" text-anchor="end" font-family='"Liberation Serif", "Times New Roman", serif' fill="#222">0.9</text>
<line x1="58.2" y1="187" x2="61" y2="187" stroke="#2a2a2a" stroke-width="0.95"/>
<text x="56.1" y="189.15" font-size="6.5" text-anchor="end" font-family='"Liberation Serif", "Times New Roman", serif' fill="#222">1.0</text>
<line x1="59.3" y1="293.25" x2="61" y2="293.25" stroke="#333" stroke-width="0.9"/>
<line x1="59.3" y1="269.63" x2="61" y2="269.63" stroke="#333" stroke-width="0.9"/>
<line x1="59.3" y1="246.03" x2="61" y2="246.03" stroke="#333" stroke-width="0.9"/>
<line x1="59.3" y1="222.41" x2="61" y2="222.41" stroke="#333" stroke-width="0.9"/>
<line x1="59.3" y1="198.81" x2="61" y2="198.81" stroke="#333" stroke-width="0.9"/>
<line x1="71.85" y1="316.7" x2="71.85" y2="319.8" stroke="#333" stroke-width="0.9"/>
<text x="71.85" y="326.1" font-size="6.4" text-anchor="middle" font-family='"Liberation Serif", "Times New Roman", serif' fill="#222">T1-IR</text>
<line x1="93.54" y1="316.7" x2="93.54" y2="319.8" stroke="#333" stroke-width="0.9"/>
<text x="93.54" y="326.1" font-size="6.4" text-anchor="middle" font-family='"Liberation Serif", "Times New Roman", serif' fill="#222">T2-IR</text>
<line x1="115.23" y1="316.7" x2="115.23" y2="319.8" stroke="#333" stroke-width="0.9"/>
<text x="115.23" y="326.1" font-size="6.4" text-anchor="middle" font-family='"Liberation Serif", "Times New Roman", serif' fill="#222">T3-IR</text>
<line x1="136.92" y1="316.7" x2="136.92" y2="319.8" stroke="#333" stroke-width="0.9"/>
<text x="136.92" y="326.1" font-size="6.4" text-anchor="middle" font-family='"Liberation Serif", "Times New Roman", serif' fill="#222">T4-IR</text>
<line x1="158.61" y1="316.7" x2="158.61" y2="319.8" stroke="#333" stroke-width="0.9"/>
<text x="158.61" y="326.1" font-size="6.4" text-anchor="middle" font-family='"Liberation Serif", "Times New Roman", serif' fill="#222">T1-WS</text>
<line x1="180.3" y1="316.7" x2="180.3" y2="319.8" stroke="#333" stroke-width="0.9"/>
<text x="180.3" y="326.1" font-size="6.4" text-anchor="middle" font-family='"Liberation Serif", "Times New Roman", serif' fill="#222">T2-WS</text>
<line x1="201.99" y1="316.7" x2="201.99" y2="319.8" stroke="#333" stroke-width="0.9"/>
<text x="201.99" y="326.1" font-size="6.4" text-anchor="middle" font-family='"Liberation Serif", "Times New Roman", serif' fill="#222">T3-WS</text>
<line x1="223.68" y1="316.7" x2="223.68" y2="319.8" stroke="#333" stroke-width="0.9"/>
<text x="223.68" y="326.1" font-size="6.4" text-anchor="middle" font-family='"Liberation Serif", "Times New Roman", serif' fill="#222">T4-WS</text>
<rect x="208.5" y="179.6" width="15.9" height="10" fill="#fff" stroke="#222" stroke-width="0.8"/>
<text x="216.45" y="186.46" font-size="6.5" text-anchor="middle" font-family='"Liberation Serif", "Times New Roman", serif' fill="#111">2023</text>
<text x="65.6" y="191.8" font-size="7.7" font-family='"Liberation Serif", "Times New Roman", serif' fill="#222">d)</text>
<text transform="translate(42.65 247.45) rotate(-90)" x="0" y="2.15" font-size="6.5" font-weight="bold" text-anchor="middle" font-family='"Liberation Sans", Arial, sans-serif' fill="#222" style="stroke-width:0.12px">ΦPSII</text>
</g>
<g>
<line x1="287.8" y1="178.5" x2="461.05" y2="178.5" stroke="#222" stroke-width="0.75"/>
<line x1="461.05" y1="178.5" x2="461.05" y2="316.7" stroke="#222" stroke-width="0.75"/>
<path d="M298.55 201.1V187.45H450.38V191.7" fill="none" stroke="#1a1a1a" stroke-width="0.8"/>
<text x="373.6" y="186.5" font-size="6.2" text-anchor="middle" font-family='"Liberation Serif", "Times New Roman", serif' fill="#222">*</text>
<path d="M320.24 201.1V196.7H450.38V210.3" fill="none" stroke="#1a1a1a" stroke-width="0.8"/>
<text x="385.4" y="197.5" font-size="6.2" text-anchor="middle" font-family='"Liberation Serif", "Times New Roman", serif' fill="#222">*</text>
<path d="M298.55 228.5V205.95H428.69V210.6" fill="none" stroke="#1a1a1a" stroke-width="0.8"/>
<text x="369.1" y="207.8" font-size="6.2" text-anchor="middle" font-family='"Liberation Serif", "Times New Roman", serif' fill="#222">*</text>
<path d="M341.93 219.5V215.2H450.38V278.5" fill="none" stroke="#1a1a1a" stroke-width="0.8"/>
<text x="395.6" y="215.4" font-size="6.2" text-anchor="middle" font-family='"Liberation Serif", "Times New Roman", serif' fill="#222">*</text>
<path d="M320.24 228.5V224.45H428.69V238" fill="none" stroke="#1a1a1a" stroke-width="0.8"/>
<text x="376.4" y="223.6" font-size="6.2" text-anchor="middle" font-family='"Liberation Serif", "Times New Roman", serif' fill="#222">*</text>
<path d="M298.55 265.5V233.7H407V238" fill="none" stroke="#1a1a1a" stroke-width="0.8"/>
<text x="353.4" y="233.6" font-size="6.2" text-anchor="middle" font-family='"Liberation Serif", "Times New Roman", serif' fill="#222">**</text>
<path d="M341.93 247.4V242.95H428.69V282.9" fill="none" stroke="#1a1a1a" stroke-width="0.8"/>
<text x="385.4" y="242.3" font-size="6.2" text-anchor="middle" font-family='"Liberation Serif", "Times New Roman", serif' fill="#222">*</text>
<path d="M320.24 267.7V252.2H407V256.2" fill="none" stroke="#1a1a1a" stroke-width="0.8"/>
<text x="361.5" y="252.7" font-size="6.2" text-anchor="middle" font-family='"Liberation Serif", "Times New Roman", serif' fill="#222">*</text>
<path d="M341.93 266.2V261.45H407V275.9" fill="none" stroke="#1a1a1a" stroke-width="0.8"/>
<text x="375.8" y="260.6" font-size="6.2" text-anchor="middle" font-family='"Liberation Serif", "Times New Roman", serif' fill="#222">*</text>
<path d="M298.55 270.4V272.2M298.55 276.6V277M294.75 270.4H302.35M294.75 277H302.35" fill="none" stroke="#1c1c1c" stroke-width="0.9"/>
<rect x="291.65" y="272.2" width="13.8" height="4.4" fill="#FCC898" stroke="#222" stroke-width="0.95"/>
<line x1="291.65" y1="274.4" x2="305.45" y2="274.4" stroke="#1c1c1c" stroke-width="0.95"/>
<rect x="297.7" y="273.35" width="1.7" height="1.7" fill="#555" stroke="#1a1a1a" stroke-width="0.6"/>
<path d="M320.24 272.2V274.4M320.24 277.8V278.2M316.44 272.2H324.04M316.44 278.2H324.04" fill="none" stroke="#1c1c1c" stroke-width="0.9"/>
<rect x="313.34" y="274.4" width="13.8" height="3.4" fill="#9DD99D" stroke="#222" stroke-width="0.95"/>
<line x1="313.34" y1="276.3" x2="327.14" y2="276.3" stroke="#1c1c1c" stroke-width="0.95"/>
<rect x="319.39" y="275.15" width="1.7" height="1.7" fill="#555" stroke="#1a1a1a" stroke-width="0.6"/>
<path d="M341.93 271V273.2M341.93 278.5V279M338.13 271H345.73M338.13 279H345.73" fill="none" stroke="#1c1c1c" stroke-width="0.9"/>
<rect x="335.03" y="273.2" width="13.8" height="5.3" fill="#C4AEDB" stroke="#222" stroke-width="0.95"/>
<line x1="335.03" y1="276.2" x2="348.83" y2="276.2" stroke="#1c1c1c" stroke-width="0.95"/>
<rect x="341.08" y="274.95" width="1.7" height="1.7" fill="#555" stroke="#1a1a1a" stroke-width="0.6"/>
<path d="M363.62 278.5V280.4M363.62 286.3V289.2M359.82 278.5H367.42M359.82 289.2H367.42" fill="none" stroke="#1c1c1c" stroke-width="0.9"/>
<rect x="356.72" y="280.4" width="13.8" height="5.9" fill="#FDF79B" stroke="#222" stroke-width="0.95"/>
<line x1="356.72" y1="283" x2="370.52" y2="283" stroke="#1c1c1c" stroke-width="0.95"/>
<rect x="362.77" y="282.75" width="1.7" height="1.7" fill="#555" stroke="#1a1a1a" stroke-width="0.6"/>
<path d="M385.31 282.8V283.2M385.31 288.3V289.2M381.51 282.8H389.11M381.51 289.2H389.11" fill="none" stroke="#1c1c1c" stroke-width="0.9"/>
<rect x="378.41" y="283.2" width="13.8" height="5.1" fill="#9BB7F3" stroke="#222" stroke-width="0.95"/>
<line x1="378.41" y1="285.4" x2="392.21" y2="285.4" stroke="#1c1c1c" stroke-width="0.95"/>
<rect x="384.46" y="284.55" width="1.7" height="1.7" fill="#555" stroke="#1a1a1a" stroke-width="0.6"/>
<path d="M407 280.2V280.6M407 302.7V307.7M403.2 280.2H410.8M403.2 307.7H410.8" fill="none" stroke="#1c1c1c" stroke-width="0.9"/>
<rect x="400.1" y="280.6" width="13.8" height="22.1" fill="#FEB5FA" stroke="#222" stroke-width="0.95"/>
<line x1="400.1" y1="289.4" x2="413.9" y2="289.4" stroke="#1c1c1c" stroke-width="0.95"/>
<rect x="406.15" y="291.15" width="1.7" height="1.7" fill="#555" stroke="#1a1a1a" stroke-width="0.6"/>
<path d="M428.69 287.6V289.1M428.69 291.6V291.9M424.89 287.6H432.49M424.89 291.9H432.49" fill="none" stroke="#1c1c1c" stroke-width="0.9"/>
<rect x="421.79" y="289.1" width="13.8" height="2.5" fill="#B3B38D" stroke="#222" stroke-width="0.95"/>
<line x1="421.79" y1="290.3" x2="435.59" y2="290.3" stroke="#1c1c1c" stroke-width="0.95"/>
<rect x="427.84" y="289.35" width="1.7" height="1.7" fill="#555" stroke="#1a1a1a" stroke-width="0.6"/>
<path d="M450.38 283.2V285.1M450.38 296.7V299.8M446.58 283.2H454.18M446.58 299.8H454.18" fill="none" stroke="#1c1c1c" stroke-width="0.9"/>
<rect x="443.48" y="285.1" width="13.8" height="11.6" fill="#B4E5EA" stroke="#222" stroke-width="0.95"/>
<line x1="443.48" y1="290.5" x2="457.28" y2="290.5" stroke="#1c1c1c" stroke-width="0.95"/>
<rect x="449.53" y="290.15" width="1.7" height="1.7" fill="#555" stroke="#1a1a1a" stroke-width="0.6"/>
<line x1="287.8" y1="178.5" x2="287.8" y2="317.2" stroke="#3c3c3c" stroke-width="1.0"/>
<line x1="287.3" y1="316.7" x2="461.45" y2="316.7" stroke="#3c3c3c" stroke-width="1.0"/>
<line x1="285" y1="309.3" x2="287.8" y2="309.3" stroke="#2a2a2a" stroke-width="0.95"/>
<text x="282.8" y="311.21" font-size="5.8" text-anchor="end" font-family='"Liberation Sans", Arial, sans-serif' fill="#222" style="stroke-width:0.3px">0.6</text>
<line x1="285" y1="294.32" x2="287.8" y2="294.32" stroke="#2a2a2a" stroke-width="0.95"/>
<text x="282.8" y="296.23" font-size="5.8" text-anchor="end" font-family='"Liberation Sans", Arial, sans-serif' fill="#222" style="stroke-width:0.3px">0.7</text>
<line x1="285" y1="279.34" x2="287.8" y2="279.34" stroke="#2a2a2a" stroke-width="0.95"/>
<text x="282.8" y="281.25" font-size="5.8" text-anchor="end" font-family='"Liberation Sans", Arial, sans-serif' fill="#222" style="stroke-width:0.3px">0.8</text>
<line x1="285" y1="264.36" x2="287.8" y2="264.36" stroke="#2a2a2a" stroke-width="0.95"/>
<text x="282.8" y="266.27" font-size="5.8" text-anchor="end" font-family='"Liberation Sans", Arial, sans-serif' fill="#222" style="stroke-width:0.3px">0.9</text>
<line x1="285" y1="249.38" x2="287.8" y2="249.38" stroke="#2a2a2a" stroke-width="0.95"/>
<text x="282.8" y="251.29" font-size="5.8" text-anchor="end" font-family='"Liberation Sans", Arial, sans-serif' fill="#222" style="stroke-width:0.3px">1.0</text>
<line x1="285" y1="234.4" x2="287.8" y2="234.4" stroke="#2a2a2a" stroke-width="0.95"/>
<text x="282.8" y="236.31" font-size="5.8" text-anchor="end" font-family='"Liberation Sans", Arial, sans-serif' fill="#222" style="stroke-width:0.3px">1.1</text>
<line x1="285" y1="219.42" x2="287.8" y2="219.42" stroke="#2a2a2a" stroke-width="0.95"/>
<text x="282.8" y="221.33" font-size="5.8" text-anchor="end" font-family='"Liberation Sans", Arial, sans-serif' fill="#222" style="stroke-width:0.3px">1.2</text>
<line x1="285" y1="204.44" x2="287.8" y2="204.44" stroke="#2a2a2a" stroke-width="0.95"/>
<text x="282.8" y="206.35" font-size="5.8" text-anchor="end" font-family='"Liberation Sans", Arial, sans-serif' fill="#222" style="stroke-width:0.3px">1.3</text>
<line x1="285" y1="189.46" x2="287.8" y2="189.46" stroke="#2a2a2a" stroke-width="0.95"/>
<text x="282.8" y="191.37" font-size="5.8" text-anchor="end" font-family='"Liberation Sans", Arial, sans-serif' fill="#222" style="stroke-width:0.3px">1.4</text>
<line x1="286.1" y1="301.81" x2="287.8" y2="301.81" stroke="#333" stroke-width="0.9"/>
<line x1="286.1" y1="286.83" x2="287.8" y2="286.83" stroke="#333" stroke-width="0.9"/>
<line x1="286.1" y1="271.85" x2="287.8" y2="271.85" stroke="#333" stroke-width="0.9"/>
<line x1="286.1" y1="256.87" x2="287.8" y2="256.87" stroke="#333" stroke-width="0.9"/>
<line x1="286.1" y1="241.89" x2="287.8" y2="241.89" stroke="#333" stroke-width="0.9"/>
<line x1="286.1" y1="226.91" x2="287.8" y2="226.91" stroke="#333" stroke-width="0.9"/>
<line x1="286.1" y1="211.93" x2="287.8" y2="211.93" stroke="#333" stroke-width="0.9"/>
<line x1="286.1" y1="196.95" x2="287.8" y2="196.95" stroke="#333" stroke-width="0.9"/>
<line x1="286.1" y1="181.97" x2="287.8" y2="181.97" stroke="#333" stroke-width="0.9"/>
<line x1="298.55" y1="316.7" x2="298.55" y2="319.8" stroke="#333" stroke-width="0.9"/>
<text x="298.55" y="326.1" font-size="6.4" text-anchor="middle" font-family='"Liberation Serif", "Times New Roman", serif' fill="#222">T1-IR</text>
<line x1="320.24" y1="316.7" x2="320.24" y2="319.8" stroke="#333" stroke-width="0.9"/>
<text x="320.24" y="326.1" font-size="6.4" text-anchor="middle" font-family='"Liberation Serif", "Times New Roman", serif' fill="#222">T2-IR</text>
<line x1="341.93" y1="316.7" x2="341.93" y2="319.8" stroke="#333" stroke-width="0.9"/>
<text x="341.93" y="326.1" font-size="6.4" text-anchor="middle" font-family='"Liberation Serif", "Times New Roman", serif' fill="#222">T3-IR</text>
<line x1="363.62" y1="316.7" x2="363.62" y2="319.8" stroke="#333" stroke-width="0.9"/>
<text x="363.62" y="326.1" font-size="6.4" text-anchor="middle" font-family='"Liberation Serif", "Times New Roman", serif' fill="#222">T4-IR</text>
<line x1="385.31" y1="316.7" x2="385.31" y2="319.8" stroke="#333" stroke-width="0.9"/>
<text x="385.31" y="326.1" font-size="6.4" text-anchor="middle" font-family='"Liberation Serif", "Times New Roman", serif' fill="#222">T1-WS</text>
<line x1="407" y1="316.7" x2="407" y2="319.8" stroke="#333" stroke-width="0.9"/>
<text x="407" y="326.1" font-size="6.4" text-anchor="middle" font-family='"Liberation Serif", "Times New Roman", serif' fill="#222">T2-WS</text>
<line x1="428.69" y1="316.7" x2="428.69" y2="319.8" stroke="#333" stroke-width="0.9"/>
<text x="428.69" y="326.1" font-size="6.4" text-anchor="middle" font-family='"Liberation Serif", "Times New Roman", serif' fill="#222">T3-WS</text>
<line x1="450.38" y1="316.7" x2="450.38" y2="319.8" stroke="#333" stroke-width="0.9"/>
<text x="450.38" y="326.1" font-size="6.4" text-anchor="middle" font-family='"Liberation Serif", "Times New Roman", serif' fill="#222">T4-WS</text>
<rect x="439.7" y="179.3" width="15.8" height="10.2" fill="none" stroke="#222" stroke-width="0.8"/>
<text x="447.6" y="186.33" font-size="6.7" text-anchor="middle" font-family='"Liberation Serif", "Times New Roman", serif' fill="#111">2023</text>
<text x="292.9" y="187" font-size="7" font-family='"Liberation Serif", "Times New Roman", serif' fill="#222">e)</text>
<text transform="translate(269.1 247.3) rotate(-90)" x="0" y="2.11" font-size="6.4" font-weight="bold" text-anchor="middle" font-family='"Liberation Sans", Arial, sans-serif' fill="#222" style="stroke-width:0.12px">ΦPSII</text>
</g>
<g>
<line x1="511.45" y1="178.5" x2="684.5" y2="178.5" stroke="#222" stroke-width="0.75"/>
<line x1="684.5" y1="178.5" x2="684.5" y2="316.7" stroke="#222" stroke-width="0.75"/>
<path d="M522.5 231.7V193.5H630.95V201.2" fill="none" stroke="#1a1a1a" stroke-width="0.8"/>
<text x="572.5" y="191.5" font-size="6.2" text-anchor="middle" font-family='"Liberation Serif", "Times New Roman", serif' fill="#222">*</text>
<path d="M544.19 233.6V208.9H630.95V216.6" fill="none" stroke="#1a1a1a" stroke-width="0.8"/>
<text x="586.8" y="207.8" font-size="6.2" text-anchor="middle" font-family='"Liberation Serif", "Times New Roman", serif' fill="#222">*</text>
<path d="M565.88 234.2V224.4H630.95V242.7" fill="none" stroke="#1a1a1a" stroke-width="0.8"/>
<text x="597.8" y="224.4" font-size="6.2" text-anchor="middle" font-family='"Liberation Serif", "Times New Roman", serif' fill="#222">*</text>
<path d="M522.5 239.9V240.15M522.5 242.75V243M518.7 239.9H526.3M518.7 243H526.3" fill="none" stroke="#1c1c1c" stroke-width="0.9"/>
<rect x="515.6" y="240.15" width="13.8" height="2.6" fill="#FCC898" stroke="#222" stroke-width="0.95"/>
<line x1="515.6" y1="241.45" x2="529.4" y2="241.45" stroke="#1c1c1c" stroke-width="0.95"/>
<rect x="521.65" y="240.55" width="1.7" height="1.7" fill="#555" stroke="#1a1a1a" stroke-width="0.6"/>
<path d="M544.19 241.7V242.3M544.19 246.6V247.2M540.39 241.7H547.99M540.39 247.2H547.99" fill="none" stroke="#1c1c1c" stroke-width="0.9"/>
<rect x="537.29" y="242.3" width="13.8" height="4.3" fill="#9DD99D" stroke="#222" stroke-width="0.95"/>
<line x1="537.29" y1="244.2" x2="551.09" y2="244.2" stroke="#1c1c1c" stroke-width="0.95"/>
<rect x="543.34" y="243.65" width="1.7" height="1.7" fill="#555" stroke="#1a1a1a" stroke-width="0.6"/>
<path d="M565.88 242.4V242.45M565.88 243.75V243.8M562.08 242.4H569.68M562.08 243.8H569.68" fill="none" stroke="#1c1c1c" stroke-width="0.9"/>
<rect x="558.98" y="242.45" width="13.8" height="1.3" fill="#C4AEDB" stroke="#222" stroke-width="0.95"/>
<line x1="558.98" y1="243.1" x2="572.78" y2="243.1" stroke="#1c1c1c" stroke-width="0.95"/>
<rect x="565.03" y="242.25" width="1.7" height="1.7" fill="#555" stroke="#1a1a1a" stroke-width="0.6"/>
<path d="M587.57 242.3V243.9M587.57 261.1V271.5M583.77 242.3H591.37M583.77 271.5H591.37" fill="none" stroke="#1c1c1c" stroke-width="0.9"/>
<rect x="580.67" y="243.9" width="13.8" height="17.2" fill="#FDF79B" stroke="#222" stroke-width="0.95"/>
<line x1="580.67" y1="247.7" x2="594.47" y2="247.7" stroke="#1c1c1c" stroke-width="0.95"/>
<rect x="586.72" y="251.65" width="1.7" height="1.7" fill="#555" stroke="#1a1a1a" stroke-width="0.6"/>
<path d="M609.26 249.5V250M609.26 256.4V261.5M605.46 249.5H613.06M605.46 261.5H613.06" fill="none" stroke="#1c1c1c" stroke-width="0.9"/>
<rect x="602.36" y="250" width="13.8" height="6.4" fill="#9BB7F3" stroke="#222" stroke-width="0.95"/>
<line x1="602.36" y1="250.8" x2="616.16" y2="250.8" stroke="#1c1c1c" stroke-width="0.95"/>
<rect x="608.41" y="252.15" width="1.7" height="1.7" fill="#555" stroke="#1a1a1a" stroke-width="0.6"/>
<path d="M630.95 250.6V251.2M630.95 297.4V300.4M627.15 250.6H634.75M627.15 300.4H634.75" fill="none" stroke="#1c1c1c" stroke-width="0.9"/>
<rect x="624.05" y="251.2" width="13.8" height="46.2" fill="#FEB5FA" stroke="#222" stroke-width="0.95"/>
<line x1="624.05" y1="273.2" x2="637.85" y2="273.2" stroke="#1c1c1c" stroke-width="0.95"/>
<rect x="630.1" y="273.55" width="1.7" height="1.7" fill="#555" stroke="#1a1a1a" stroke-width="0.6"/>
<path d="M652.64 247.4V255.5M652.64 270.4V274.7M648.84 247.4H656.44M648.84 274.7H656.44" fill="none" stroke="#1c1c1c" stroke-width="0.9"/>
<rect x="645.74" y="255.5" width="13.8" height="14.9" fill="#B3B38D" stroke="#222" stroke-width="0.95"/>
<line x1="645.74" y1="264.7" x2="659.54" y2="264.7" stroke="#1c1c1c" stroke-width="0.95"/>
<rect x="651.79" y="262.15" width="1.7" height="1.7" fill="#555" stroke="#1a1a1a" stroke-width="0.6"/>
<path d="M674.33 243V251.8M674.33 271.2V277M670.53 243H678.13M670.53 277H678.13" fill="none" stroke="#1c1c1c" stroke-width="0.9"/>
<rect x="667.43" y="251.8" width="13.8" height="19.4" fill="#B4E5EA" stroke="#222" stroke-width="0.95"/>
<line x1="667.43" y1="262.5" x2="681.23" y2="262.5" stroke="#1c1c1c" stroke-width="0.95"/>
<rect x="673.48" y="260.65" width="1.7" height="1.7" fill="#555" stroke="#1a1a1a" stroke-width="0.6"/>
<line x1="511.45" y1="178.5" x2="511.45" y2="317.2" stroke="#3c3c3c" stroke-width="1.0"/>
<line x1="510.95" y1="316.7" x2="684.9" y2="316.7" stroke="#3c3c3c" stroke-width="1.0"/>
<line x1="508.65" y1="303.15" x2="511.45" y2="303.15" stroke="#2a2a2a" stroke-width="0.95"/>
<text x="507.25" y="305.29" font-size="6.5" text-anchor="end" font-family='"Liberation Serif", "Times New Roman", serif' fill="#222">0.6</text>
<line x1="508.65" y1="275.49" x2="511.45" y2="275.49" stroke="#2a2a2a" stroke-width="0.95"/>
<text x="507.25" y="277.63" font-size="6.5" text-anchor="end" font-family='"Liberation Serif", "Times New Roman", serif' fill="#222">0.7</text>
<line x1="508.65" y1="247.83" x2="511.45" y2="247.83" stroke="#2a2a2a" stroke-width="0.95"/>
<text x="507.25" y="249.97" font-size="6.5" text-anchor="end" font-family='"Liberation Serif", "Times New Roman", serif' fill="#222">0.8</text>
<line x1="508.65" y1="220.17" x2="511.45" y2="220.17" stroke="#2a2a2a" stroke-width="0.95"/>
<text x="507.25" y="222.31" font-size="6.5" text-anchor="end" font-family='"Liberation Serif", "Times New Roman", serif' fill="#222">0.9</text>
<line x1="508.65" y1="192.51" x2="511.45" y2="192.51" stroke="#2a2a2a" stroke-width="0.95"/>
<text x="507.25" y="194.65" font-size="6.5" text-anchor="end" font-family='"Liberation Serif", "Times New Roman", serif' fill="#222">1.0</text>
<line x1="509.75" y1="289.32" x2="511.45" y2="289.32" stroke="#333" stroke-width="0.9"/>
<line x1="509.75" y1="261.66" x2="511.45" y2="261.66" stroke="#333" stroke-width="0.9"/>
<line x1="509.75" y1="234" x2="511.45" y2="234" stroke="#333" stroke-width="0.9"/>
<line x1="509.75" y1="206.34" x2="511.45" y2="206.34" stroke="#333" stroke-width="0.9"/>
<line x1="522.5" y1="316.7" x2="522.5" y2="319.8" stroke="#333" stroke-width="0.9"/>
<text x="522.5" y="326.1" font-size="6.4" text-anchor="middle" font-family='"Liberation Serif", "Times New Roman", serif' fill="#222">T1-IR</text>
<line x1="544.19" y1="316.7" x2="544.19" y2="319.8" stroke="#333" stroke-width="0.9"/>
<text x="544.19" y="326.1" font-size="6.4" text-anchor="middle" font-family='"Liberation Serif", "Times New Roman", serif' fill="#222">T2-IR</text>
<line x1="565.88" y1="316.7" x2="565.88" y2="319.8" stroke="#333" stroke-width="0.9"/>
<text x="565.88" y="326.1" font-size="6.4" text-anchor="middle" font-family='"Liberation Serif", "Times New Roman", serif' fill="#222">T3-IR</text>
<line x1="587.57" y1="316.7" x2="587.57" y2="319.8" stroke="#333" stroke-width="0.9"/>
<text x="587.57" y="326.1" font-size="6.4" text-anchor="middle" font-family='"Liberation Serif", "Times New Roman", serif' fill="#222">T4-IR</text>
<line x1="609.26" y1="316.7" x2="609.26" y2="319.8" stroke="#333" stroke-width="0.9"/>
<text x="609.26" y="326.1" font-size="6.4" text-anchor="middle" font-family='"Liberation Serif", "Times New Roman", serif' fill="#222">T1-WS</text>
<line x1="630.95" y1="316.7" x2="630.95" y2="319.8" stroke="#333" stroke-width="0.9"/>
<text x="630.95" y="326.1" font-size="6.4" text-anchor="middle" font-family='"Liberation Serif", "Times New Roman", serif' fill="#222">T2-WS</text>
<line x1="652.64" y1="316.7" x2="652.64" y2="319.8" stroke="#333" stroke-width="0.9"/>
<text x="652.64" y="326.1" font-size="6.4" text-anchor="middle" font-family='"Liberation Serif", "Times New Roman", serif' fill="#222">T3-WS</text>
<line x1="674.33" y1="316.7" x2="674.33" y2="319.8" stroke="#333" stroke-width="0.9"/>
<text x="674.33" y="326.1" font-size="6.4" text-anchor="middle" font-family='"Liberation Serif", "Times New Roman", serif' fill="#222">T4-WS</text>
<rect x="665.4" y="180.7" width="16" height="9.9" fill="#fff" stroke="#222" stroke-width="0.8"/>
<text x="673.4" y="187.03" font-size="6.85" text-anchor="middle" font-family='"Liberation Serif", "Times New Roman", serif' fill="#111">2023</text>
<text x="517.6" y="186.9" font-size="7" font-family='"Liberation Serif", "Times New Roman", serif' fill="#222">f)</text>
<text transform="translate(492.8 248) rotate(-90)" x="0" y="2.61" font-size="7.9" font-weight="normal" text-anchor="middle" font-family='"Liberation Serif", "Times New Roman", serif' fill="#222" style="stroke-width:0.3px">ΦPSII</text>
</g>
<text x="-0.5" y="339.5" font-size="6.0" font-family='"Liberation Serif", "Times New Roman", serif' fill="#222" xml:space="preserve">* p&lt;=0.05</text>
<text x="30.2" y="339.5" font-size="6.0" font-family='"Liberation Serif", "Times New Roman", serif' fill="#222" xml:space="preserve">** p&lt;=0.01</text>
<text x="63.5" y="339.5" font-size="6.0" font-family='"Liberation Serif", "Times New Roman", serif' fill="#222" xml:space="preserve">*** p&lt;=0.001</text>
</svg>
</body></html>
